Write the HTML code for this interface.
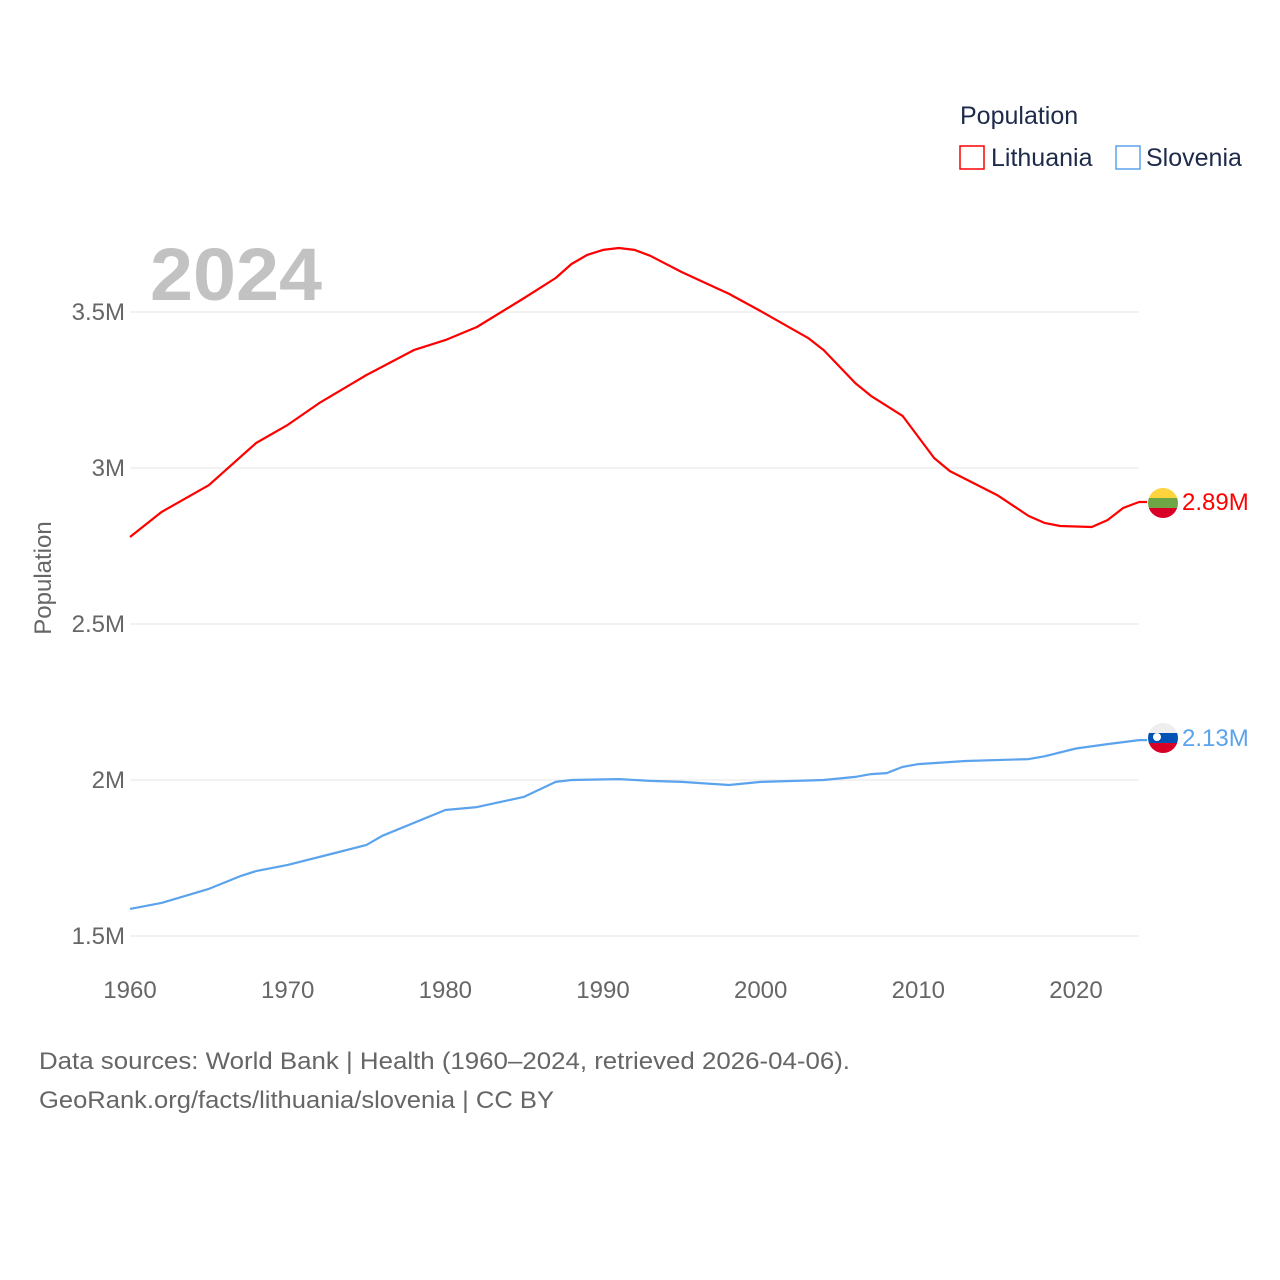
<!DOCTYPE html>
<html><head><meta charset="utf-8">
<style>
body{margin:0;background:#fff;font-family:"Liberation Sans",sans-serif;}
svg{display:block}
</style></head>
<body>
<svg id="chart" width="1280" height="1280">
  <g id="grid"></g>
  <g id="yticks"></g>
  <g id="xticks"></g>
  <text x="150" y="300" font-size="74" font-weight="bold" fill="#c2c2c2" textLength="172" lengthAdjust="spacingAndGlyphs">2024</text>
  <text x="51" y="578" font-size="24" fill="#666" transform="rotate(-90 51 578)" text-anchor="middle">Population</text>
  <g id="lines"></g>
  <g>
    <text x="960" y="124" font-size="25" fill="#1d2a4a">Population</text>
    <g>
      <rect x="960" y="146" width="24" height="23" fill="none" stroke="#ff0000" stroke-width="1.5"/>
      <text x="991" y="166" font-size="25" fill="#1d2a4a">Lithuania</text>
    </g>
    <g>
      <rect x="1116" y="146" width="24" height="23" fill="none" stroke="#5ba3ec" stroke-width="1.5"/>
      <text x="1146" y="166" font-size="25" fill="#1d2a4a">Slovenia</text>
    </g>
  </g>
  <defs>
    <clipPath id="c1"><circle cx="1163" cy="503" r="15"/></clipPath>
    <clipPath id="c2"><circle cx="1163" cy="738" r="15"/></clipPath>
  </defs>
  <g clip-path="url(#c1)">
    <rect x="1148" y="488" width="30" height="10" fill="#fdd33e"/>
    <rect x="1148" y="498" width="30" height="10" fill="#6ea646"/>
    <rect x="1148" y="508" width="30" height="10" fill="#d80027"/>
  </g>
  <text x="1182" y="510" font-size="24" fill="#ff0000">2.89M</text>
  <g clip-path="url(#c2)">
    <rect x="1148" y="723" width="30" height="10" fill="#eeeeee"/>
    <rect x="1148" y="733" width="30" height="10" fill="#0052b4"/>
    <rect x="1148" y="743" width="30" height="10" fill="#d80027"/>
    <circle cx="1157" cy="737" r="4" fill="#fff"/>
  </g>
  <text x="1182" y="746" font-size="24" fill="#5ba3ec">2.13M</text>
  <text x="39" y="1069" font-size="24" fill="#666" textLength="811" lengthAdjust="spacingAndGlyphs">Data sources: World Bank | Health (1960–2024, retrieved 2026-04-06).</text>
  <text x="39" y="1108" font-size="24" fill="#666" textLength="515" lengthAdjust="spacingAndGlyphs">GeoRank.org/facts/lithuania/slovenia | CC BY</text>
</svg>
<script>
const ltYears=[1960,1962,1965,1968,1970,1972,1975,1978,1980,1982,1985,1987,1988,1989,1990,1991,1992,1993,1995,1998,2000,2003,2004,2006,2007,2009,2011,2012,2015,2017,2018,2019,2021,2022,2023,2024];
const ltValues=[2.779,2.859,2.945,3.080,3.138,3.208,3.298,3.378,3.410,3.452,3.545,3.609,3.654,3.683,3.699,3.705,3.699,3.680,3.628,3.558,3.503,3.417,3.378,3.272,3.231,3.167,3.032,2.990,2.913,2.846,2.824,2.814,2.811,2.833,2.872,2.891];
const siYears=[1960,1962,1965,1967,1968,1970,1973,1975,1976,1980,1982,1985,1987,1988,1991,1993,1995,1998,2000,2004,2006,2007,2008,2009,2010,2013,2017,2018,2020,2022,2024];
const siValues=[1.587,1.606,1.651,1.692,1.708,1.728,1.766,1.792,1.821,1.904,1.913,1.946,1.994,2.0,2.003,1.997,1.994,1.984,1.994,2.0,2.01,2.019,2.022,2.042,2.051,2.061,2.067,2.076,2.101,2.115,2.128];
const yTicks=[1.5,2,2.5,3,3.5];
const yTickLabels=["1.5M","2M","2.5M","3M","3.5M"];
const xTicks=[1960,1970,1980,1990,2000,2010,2020];
const NS="http://www.w3.org/2000/svg";
const xs=y=>130+(y-1960)*(946/60);
const ys=v=>936-(v-1.5)*312;
const grid=document.getElementById('grid'),yt=document.getElementById('yticks'),xt=document.getElementById('xticks'),lines=document.getElementById('lines');
yTicks.forEach((v,i)=>{
  const l=document.createElementNS(NS,'line');
  l.setAttribute('x1',130);l.setAttribute('x2',1139);l.setAttribute('y1',ys(v));l.setAttribute('y2',ys(v));
  l.setAttribute('stroke','#e6e6e6');l.setAttribute('stroke-width','1');
  
  
  grid.appendChild(l);
  const t=document.createElementNS(NS,'text');
  t.setAttribute('x',125);t.setAttribute('y',ys(v)+8);t.setAttribute('text-anchor','end');
  t.setAttribute('font-size','24');t.setAttribute('fill','#666');t.textContent=yTickLabels[i];
  
  
  yt.appendChild(t);
});
xTicks.forEach(y=>{
  const t=document.createElementNS(NS,'text');
  t.setAttribute('x',xs(y));t.setAttribute('y',998);t.setAttribute('text-anchor','middle');
  t.setAttribute('font-size','24');t.setAttribute('fill','#666');t.textContent=y;
  
  
  xt.appendChild(t);
});
function draw(years,vals,color,name){
  const p=document.createElementNS(NS,'path');
  let d=years.map((y,i)=>(i?'L':'M')+xs(y).toFixed(1)+','+ys(vals[i]).toFixed(1)).join(' ');
  const last=years.length-1;
  d+=' L'+(xs(years[last])+8)+','+ys(vals[last]).toFixed(1);
  p.setAttribute('d',d);p.setAttribute('fill','none');p.setAttribute('stroke',color);
  p.setAttribute('stroke-width','2.2');p.setAttribute('stroke-linejoin','round');
  
  
  lines.appendChild(p);
}
draw(ltYears,ltValues,'#ff0000','lithuania-line');
draw(siYears,siValues,'#5ba3ec','slovenia-line');
</script>
</body></html>
